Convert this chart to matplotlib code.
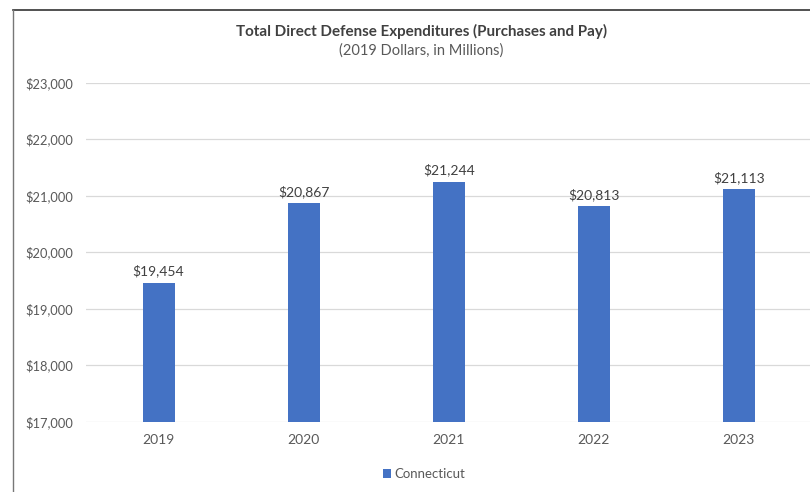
import matplotlib.pyplot as plt
from matplotlib.lines import Line2D
from matplotlib.ticker import FuncFormatter

# data
years = ['2019', '2020', '2021', '2022', '2023']
spending = [19454, 20867, 21244, 20813, 21113]
y_ticks = [17000, 18000, 19000, 20000, 21000, 22000, 23000]

plt.rcParams['font.family'] = ['Lato', 'DejaVu Sans']

fig = plt.figure(figsize=(8.1, 4.92), dpi=100)
ax = fig.add_axes([86 / 810, 1 - 421.7 / 492, (810 - 86) / 810, (421.7 - 82.7) / 492])

bar_color = '#4472C4'
x = range(len(years))
bars = ax.bar(x, spending, width=0.22, color=bar_color, zorder=3)

for xi, v in zip(x, spending):
    ax.annotate(f'${v:,}', (xi, v), xytext=(0, 4), textcoords='offset points',
                ha='center', va='bottom', fontsize=10, color='#404040')

ax.set_ylim(17000, 23000)
ax.set_xlim(-0.5, 4.49)
ax.set_yticks(y_ticks)
ax.yaxis.set_major_formatter(FuncFormatter(lambda v, p: f'${v:,.0f}'))
ax.set_xticks(list(x))
ax.set_xticklabels(years)
ax.grid(axis='y', color='#d9d9d9', linewidth=0.9, zorder=0)
for s in ax.spines.values():
    s.set_visible(False)
ax.tick_params(axis='both', length=0, colors='#595959')
ax.tick_params(axis='y', pad=9.5, labelsize=9.3)
ax.tick_params(axis='x', pad=9, labelsize=10)

fig.text(0.52, 1 - 31 / 492, 'Total Direct Defense Expenditures (Purchases and Pay)',
         ha='center', va='center', fontsize=10.9, fontweight='bold', color='#404040')
fig.text(0.52, 1 - 51 / 492, '(2019 Dollars, in Millions)',
         ha='center', va='center', fontsize=10.5, color='#595959')

leg = ax.legend([bars], ['Connecticut'], loc='center', bbox_to_anchor=(0.467, -0.155),
                frameon=False, fontsize=9.5, handlelength=0.6, handleheight=0.6,
                handletextpad=0.3, labelcolor='#595959')

# outer frame (top and left edges are visible in the picture)
fig.add_artist(Line2D([13 / 810, 1], [1 - 10 / 492, 1 - 10 / 492], color='#333333', linewidth=1.2))
fig.add_artist(Line2D([13 / 810, 13 / 810], [0, 1 - 10 / 492], color='#777777', linewidth=1.0))

fig.savefig('out.png', dpi=100)
